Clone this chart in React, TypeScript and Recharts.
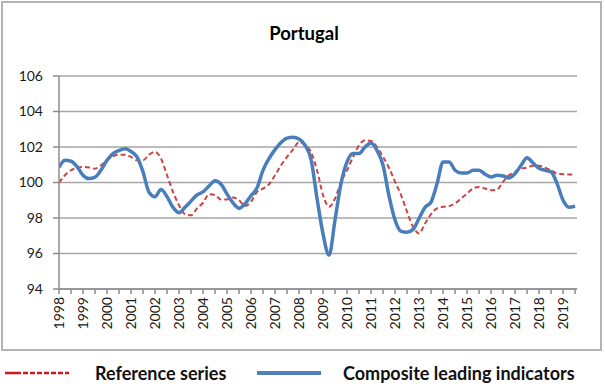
import React from 'react';
import { LineChart, Line, XAxis, YAxis, CartesianGrid, Legend } from 'recharts';

const startYear = 1998;
const stepYears = 0.25; // quarterly observations

// Composite leading indicators (quarterly, 1998Q1 .. 2019Q3)
const cliValues = [
  100.85, 101.25, 101.2, 100.9,
  100.41, 100.22, 100.3, 100.7,
  101.25, 101.63, 101.8, 101.9,
  101.75, 101.44, 100.6, 99.45,
  99.2, 99.6, 99.2, 98.6,
  98.3, 98.6, 98.95, 99.3,
  99.47, 99.8, 100.1, 99.9,
  99.35, 98.85, 98.55, 98.8,
  99.25, 99.7, 100.7, 101.35,
  101.85, 102.25, 102.5, 102.55,
  102.45, 102.1, 101.3, 99.1,
  97.1, 95.9, 97.9, 99.95,
  101.16, 101.63, 101.63, 102.0,
  102.22, 101.8, 100.97, 99.23,
  97.88, 97.25, 97.2, 97.36,
  97.98, 98.6, 98.9, 99.94,
  101.16, 101.16, 100.69, 100.54,
  100.54, 100.69, 100.69, 100.47,
  100.31, 100.41, 100.37, 100.26,
  100.5, 100.97, 101.4, 101.1,
  100.8, 100.69, 100.6, 99.94,
  99.0, 98.6, 98.67,
];

// Reference series (quarterly, 1998Q1 .. 2019Q3)
const refValues = [
  99.98, 100.41, 100.69, 100.82,
  100.88, 100.85, 100.78, 100.97,
  101.25, 101.48, 101.57, 101.57,
  101.44, 101.25, 101.25, 101.57,
  101.72, 101.35, 100.41, 99.47,
  98.72, 98.22, 98.15, 98.54,
  98.86, 99.34, 99.29, 99.04,
  99.04, 99.16, 99.0, 98.67,
  98.91, 99.47, 99.66, 99.9,
  100.41, 100.97, 101.44, 101.85,
  102.28, 102.1, 101.72, 100.69,
  99.29, 98.63, 99.1, 100.04,
  100.69, 101.44, 102.1, 102.38,
  102.34, 102.0, 101.44, 100.82,
  100.04, 99.29, 98.35, 97.5,
  97.13, 97.69, 98.22, 98.54,
  98.63, 98.67, 98.82, 99.1,
  99.38, 99.66, 99.75, 99.66,
  99.57, 99.6, 100.04, 100.41,
  100.6, 100.78, 100.84, 100.95,
  100.95, 100.84, 100.69, 100.5,
  100.47, 100.45, 100.47,
];

const yearLabels = [
  '1998', '1999', '2000', '2001', '2002', '2003', '2004', '2005', '2006', '2007', '2008',
  '2009', '2010', '2011', '2012', '2013', '2014', '2015', '2016', '2017', '2018', '2019',
];
const yTicks = [94, 96, 98, 100, 102, 104, 106];
const xDomainEnd = 2019.58;

const title = 'Portugal';
const refName = 'Reference series';
const cliName = 'Composite leading indicators';

const data = cliValues.map((v, i) => ({
  t: startYear + i * stepYears,
  cli: v,
  ref: refValues[i],
}));

const xTicks: number[] = [];
yearLabels.forEach((y) => {
  xTicks.push(Number(y));
  xTicks.push(Number(y) + 0.5);
});

const FONT = 'Lato, "Open Sans", sans-serif';

const XTick = (props: any) => {
  const { x, y, payload } = props;
  const v = payload.value;
  const idx = yearLabels.indexOf(String(v));
  if (idx < 0) return null;
  return (
    <text
      x={x}
      y={y}
      transform={`rotate(-90 ${x} ${y})`}
      textAnchor="end"
      dy="0.35em"
      fontSize={14}
      fontFamily={FONT}
      fill="#1a1a1a"
    >
      {yearLabels[idx]}
    </text>
  );
};

const LegendContent = () => (
  <div style={{ position: 'relative', width: 605, height: 30, fontFamily: FONT, fontWeight: 700, fontSize: 18, lineHeight: '22px', color: '#111' }}>
    <svg style={{ position: 'absolute', left: 5, top: 12 }} width={64} height={6}>
      <line x1={0} y1={3} x2={64} y2={3} stroke="#d01818" strokeWidth={2.5} strokeDasharray="16 2 5 2 5 2 5 2 5 2 5 2 5 2" />
    </svg>
    <span style={{ position: 'absolute', left: 95, top: 4, whiteSpace: 'nowrap' }}>{refName}</span>
    <svg style={{ position: 'absolute', left: 257, top: 12 }} width={64} height={6}>
      <line x1={0} y1={3} x2={64} y2={3} stroke="#4f81bd" strokeWidth={4} />
    </svg>
    <span style={{ position: 'absolute', left: 343, top: 4, whiteSpace: 'nowrap' }}>{cliName}</span>
  </div>
);

export default function App() {
  return (
    <div style={{ position: 'absolute', left: 0, top: 0, width: 605, height: 388, background: '#fff' }}>
      <div
        style={{
          position: 'absolute', left: 1, top: 1, width: 601, height: 350,
          border: '2px solid #b4b4b4', boxSizing: 'border-box',
        }}
      />
      <div
        style={{
          position: 'absolute', left: 2, top: 22, width: 604, textAlign: 'center',
          fontFamily: FONT, fontWeight: 700, fontSize: 18.5, lineHeight: '22px', color: '#000',
        }}
      >
        {title}
      </div>
      <div style={{ position: 'absolute', left: 0, top: 0 }}>
        <LineChart width={605} height={388} data={data} margin={{ top: 76, right: 28, left: 0, bottom: 0 }}>
          <CartesianGrid vertical={false} stroke="#a6a6a6" strokeWidth={1.5} />
          <XAxis
            dataKey="t"
            type="number"
            domain={[startYear, xDomainEnd]}
            ticks={xTicks}
            interval={0}
            height={69}
            tick={<XTick />}
            tickSize={5}
            tickMargin={3}
            axisLine={{ stroke: '#8c8c8c', strokeWidth: 1.5 }}
            tickLine={{ stroke: '#8c8c8c', strokeWidth: 1.5 }}
            allowDataOverflow
          />
          <YAxis
            type="number"
            domain={[94, 106]}
            ticks={yTicks}
            interval={0}
            width={59}
            tickSize={6}
            tickMargin={10}
            axisLine={{ stroke: '#8c8c8c', strokeWidth: 1.5 }}
            tickLine={{ stroke: '#8c8c8c', strokeWidth: 1.5 }}
            tick={{ fontSize: 14, fontFamily: FONT, fill: '#1a1a1a' }}
          />
          <Legend
            verticalAlign="bottom"
            content={<LegendContent />}
            wrapperStyle={{ left: 0, bottom: 0, width: 605, height: 30 }}
          />
          <Line
            type="monotone"
            dataKey="ref"
            name={refName}
            stroke="#cc4444"
            strokeWidth={2}
            strokeDasharray="5 3"
            dot={false}
            activeDot={false}
            isAnimationActive={false}
          />
          <Line
            type="monotone"
            dataKey="cli"
            name={cliName}
            stroke="#4a7ebb"
            strokeWidth={3.5}
            dot={false}
            activeDot={false}
            isAnimationActive={false}
          />
        </LineChart>
      </div>
    </div>
  );
}
